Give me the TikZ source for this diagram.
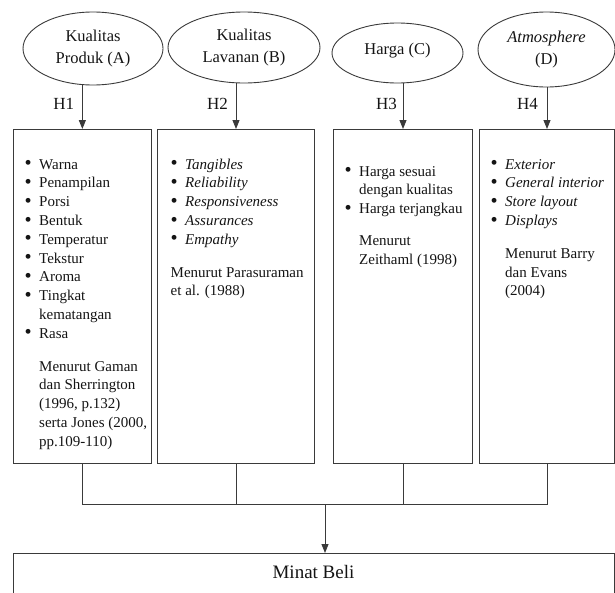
\documentclass[tikz,border=0pt]{standalone}
\usepackage{fontspec}
\setmainfont{Liberation Serif}
\usepackage{xcolor}
\usepackage{graphicx}
\usetikzlibrary{arrows.meta,positioning,calc,shapes.geometric}
\definecolor{LineGray}{HTML}{3A3A3A}
\definecolor{InkText}{HTML}{141414}
\newcommand{\listsize}{\fontsize{15}{18.8}\selectfont}
\newcommand{\bul}{\raisebox{-0.6pt}{\scalebox{1.35}{\textbullet}}}

\begin{document}
\begin{tikzpicture}[x=1pt,y=-1pt,
  var/.style={ellipse,draw=LineGray,line width=0.9pt,inner sep=0pt,align=center,text=InkText,font=\fontsize{16.5}{21.5}\selectfont},
  panel/.style={rectangle,draw=LineGray,line width=1pt,anchor=north west,minimum height=333.7pt},
  items/.style={anchor=base west,inner sep=0pt,text=InkText,font=\listsize},
  hyp/.style={anchor=east,inner sep=0pt,text=InkText,font=\fontsize{17}{20}\selectfont},
  wire/.style={draw=LineGray,line width=0.9pt},
  flow/.style={wire,-{Triangle[length=9pt,width=7pt]}}
]
\path[use as bounding box,clip] (0,0) rectangle (615,592);

\node[var,minimum width=140pt,minimum height=73pt] (kA) at (93,48.5) {Kualitas\\Produk (A)};
\node[var,minimum width=152pt,minimum height=71pt] (kB) at (244,47.5) {Kualitas\\Lavanan (B)};
\node[var,minimum width=131pt,minimum height=60pt] (kC) at (397.5,53) {\raisebox{8pt}{Harga (C)}};
\node[var,minimum width=137pt,minimum height=75pt] (kD) at (546.5,49.5) {\textit{Atmosphere}\\(D)};

\node[panel,minimum width=138.3pt] (boxA) at (12.7,129) {};
\node[panel,minimum width=157pt] (boxB) at (157,129) {};
\node[panel,minimum width=139pt] (boxC) at (333,129) {};
\node[panel,minimum width=135pt] (boxD) at (479,129) {};

\node[items] (listA) at (24.5,169) {\begin{tabular}[t]{@{}p{14.5pt}@{}l@{}}
\bul & Warna\\
\bul & Penampilan\\
\bul & Porsi\\
\bul & Bentuk\\
\bul & Temperatur\\
\bul & Tekstur\\
\bul & Aroma\\
\bul & Tingkat\\
     & kematangan\\
\bul & Rasa\\[14pt]
     & Menurut Gaman\\
     & dan Sherrington\\
     & (1996, p.132)\\
     & serta Jones (2000,\\
     & pp.109-110)
\end{tabular}};
\node[items] (listB) at (170.5,169) {\begin{tabular}[t]{@{}p{14.5pt}@{}l@{}}
\bul & \textit{Tangibles}\\
\bul & \textit{Reliability}\\
\bul & \textit{Responsiveness}\\
\bul & \textit{Assurances}\\
\bul & \textit{Empathy}\\[14pt]
\multicolumn{2}{@{}l@{}}{Menurut Parasuraman}\\
\multicolumn{2}{@{}l@{}}{et al. (1988)}
\end{tabular}};
\node[items] (listC) at (344.5,176) {\begin{tabular}[t]{@{}p{14.5pt}@{}l@{}}
\bul & Harga sesuai\\
     & dengan kualitas\\
\bul & Harga terjangkau\\[13pt]
     & Menurut\\
     & Zeithaml (1998)
\end{tabular}};
\node[items] (listD) at (490.5,169) {\begin{tabular}[t]{@{}p{14.5pt}@{}l@{}}
\bul & \textit{Exterior}\\
\bul & \textit{General interior}\\
\bul & \textit{Store layout}\\
\bul & \textit{Displays}\\[14pt]
     & Menurut Barry\\
     & dan Evans\\
     & (2004)
\end{tabular}};

\draw[flow] (boxA.north |- kA.south) -- (boxA.north);
\draw[flow] (boxB.north |- kB.south) -- (boxB.north);
\draw[flow] (boxC.north |- kC.south) -- (boxC.north);
\draw[flow] (boxD.north |- kD.south) -- (boxD.north);
\node[hyp] (h1) at ($(boxA.north)+(-8,-25)$) {H1};
\node[hyp] (h2) at ($(boxB.north)+(-8,-25)$) {H2};
\node[hyp] (h3) at ($(boxC.north)+(-6,-25)$) {H3};
\node[hyp] (h4) at ($(boxD.north)+(-9,-25)$) {H4};

\node[panel,minimum width=601pt,minimum height=60pt] (minat) at (13,553) {};
\node[text=InkText,font=\fontsize{19}{22}\selectfont] (minatlabel) at (313.5,572) {Minat Beli};
\coordinate (join) at (325,504);

\draw[wire] (boxA.south) |- (join) -| (boxD.south);
\draw[wire] (boxB.south) -- (boxB.south |- join);
\draw[wire] (boxC.south) -- (boxC.south |- join);
\draw[flow] (join) -- (join |- minat.north);
\end{tikzpicture}
\end{document}
